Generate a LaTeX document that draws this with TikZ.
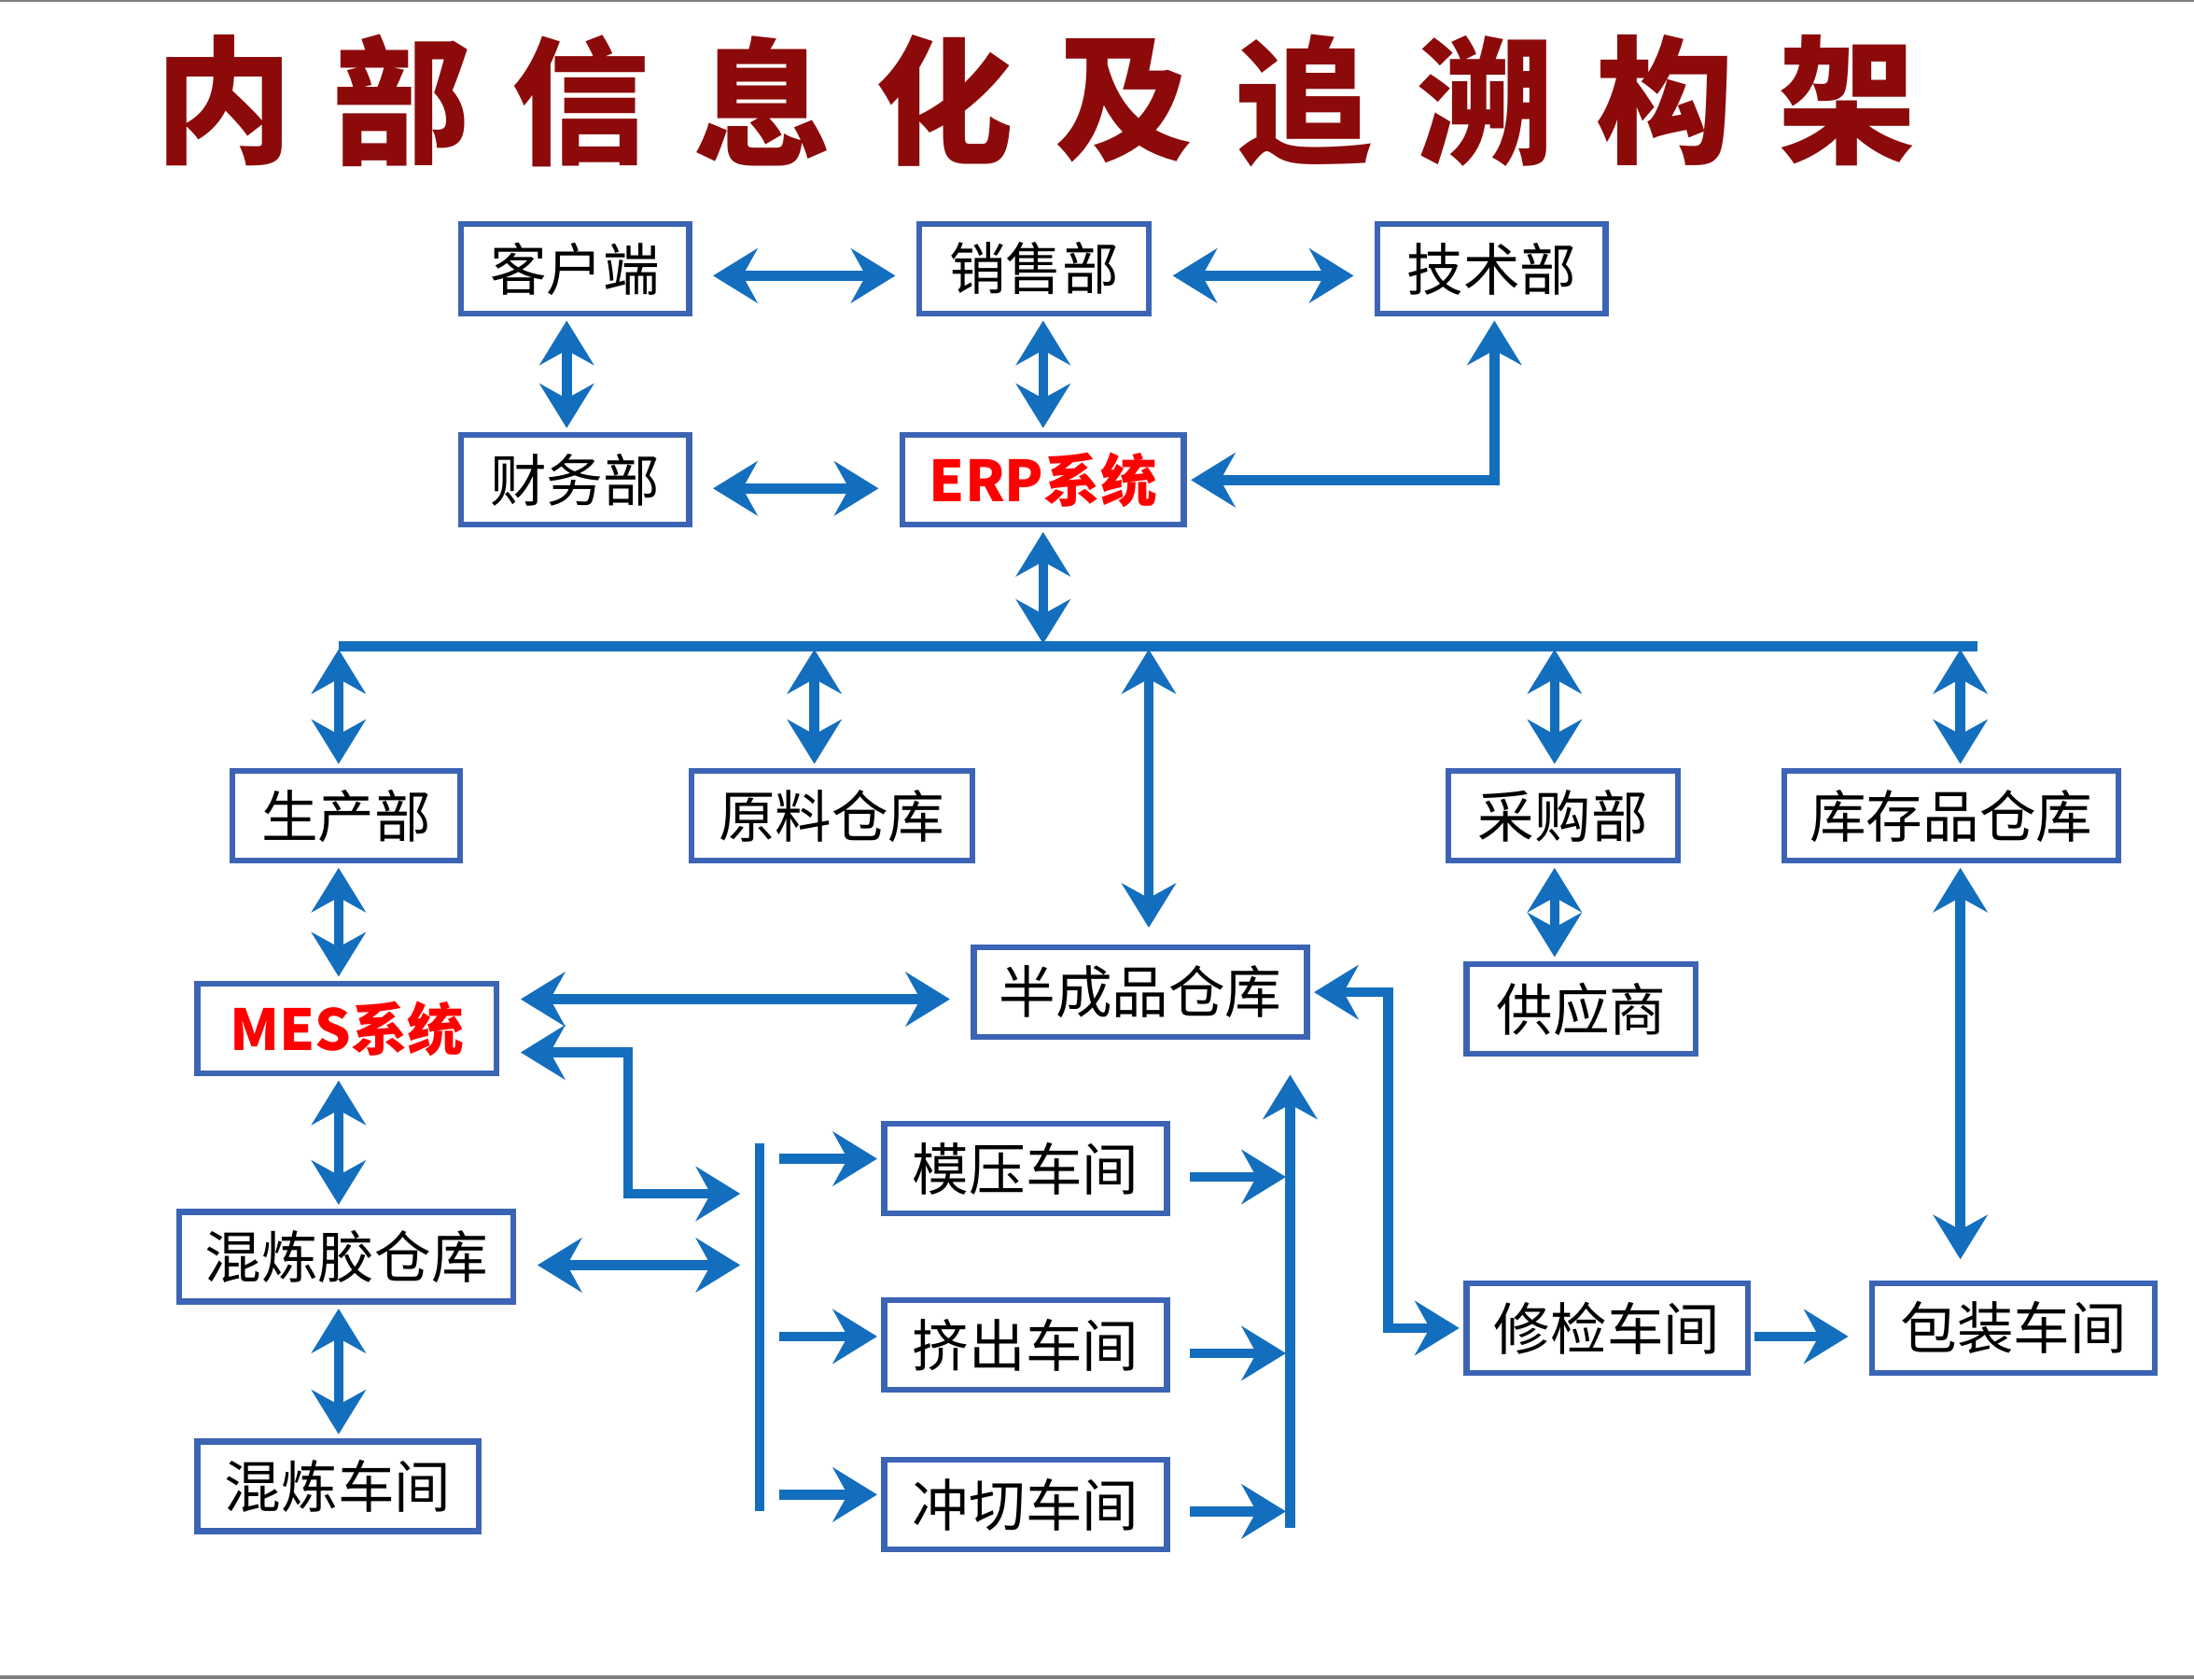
\documentclass[tikz,border=0pt]{standalone}
\usepackage{fontspec}
\setmainfont{Noto Sans CJK SC}
\newfontfamily\cjk{Noto Sans CJK SC}
\usetikzlibrary{arrows.meta}
\definecolor{bx}{RGB}{60,100,180}
\definecolor{ar}{RGB}{20,110,190}
\definecolor{tt}{RGB}{140,10,10}
\tikzset{
 box/.style={draw=bx,line width=1.2pt,minimum height=0.64cm,inner sep=0pt,font=\fontsize{11.5}{13}\selectfont\cjk},
 a/.style={draw=ar,line width=2pt,-{Stealth[length=9pt,width=11pt,inset=3pt]}},
 aa/.style={draw=ar,line width=2pt,{Stealth[length=9pt,width=11pt,inset=3pt]}-{Stealth[length=9pt,width=11pt,inset=3pt]}},
 ln/.style={draw=ar,line width=2pt},
 g/.style={shorten >=0.15cm,shorten <=0.15cm},
 v/.style={shorten >=0.03cm,shorten <=0.03cm},
 tl/.style={font=\fontsize{28}{30}\selectfont\bfseries\cjk,text=tt}
}
\begin{document}
\begin{tikzpicture}
\useasboundingbox (0,0) rectangle (15.68,-12);
\fill[white] (0,0) rectangle (15.68,-12);
\draw[gray,line width=0.6pt] (0,-0.005)--(15.68,-0.005);
\draw[gray,line width=0.6pt] (0,-11.985)--(15.68,-11.985);
\foreach \c/\x in {内/1.60,部/2.87,信/4.15,息/5.45,化/6.75,及/8.03,追/9.32,溯/10.62,构/11.90,架/13.20}
  \node[tl] (t\x) at (\x,-0.72) {\c};
\node[box,minimum width=1.63cm] (kh) at (4.11,-1.92) {客户端};
\node[box,minimum width=1.64cm] (xs) at (7.39,-1.92) {销售部};
\node[box,minimum width=1.63cm] (js) at (10.66,-1.92) {技术部};
\node[box,minimum width=1.63cm] (cw) at (4.11,-3.43) {财务部};
\node[box,minimum width=2.01cm,text=red,font=\fontsize{11.5}{13}\selectfont\bfseries\cjk] (erp) at (7.455,-3.43) {ERP系统};
\node[box,minimum width=1.63cm] (sc) at (2.475,-5.83) {生产部};
\node[box,minimum width=2.01cm] (yl) at (5.945,-5.83) {原料仓库};
\node[box,minimum width=1.64cm] (cg) at (11.17,-5.83) {采购部};
\node[box,minimum width=2.39cm] (kc) at (13.945,-5.83) {库存品仓库};
\node[box,minimum width=2.38cm] (bc) at (8.15,-7.09) {半成品仓库};
\node[box,minimum width=1.64cm] (gy) at (11.30,-7.21) {供应商};
\node[box,minimum width=2.14cm,text=red,font=\fontsize{11.5}{13}\selectfont\bfseries\cjk] (mes) at (2.48,-7.35) {MES系统};
\node[box,minimum width=2.39cm] (hlj) at (2.475,-8.98) {混炼胶仓库};
\node[box,minimum width=2.01cm] (hl) at (2.415,-10.62) {混炼车间};
\node[box,minimum width=2.02cm] (my) at (7.33,-8.35) {模压车间};
\node[box,minimum width=2.02cm] (jc) at (7.33,-9.61) {挤出车间};
\node[box,minimum width=2.02cm] (cq) at (7.33,-10.75) {冲切车间};
\node[box,minimum width=2.01cm] (xj) at (11.485,-9.49) {修检车间};
\node[box,minimum width=2.02cm] (bz) at (14.39,-9.49) {包装车间};
% top
\draw[aa,g] ([yshift=-0.05cm]kh.east) -- ([yshift=-0.05cm]xs.west);
\draw[aa,g] ([yshift=-0.05cm]xs.east) -- ([yshift=-0.05cm]js.west);
\draw[aa,v] ([xshift=-0.06cm]kh.south) -- ([xshift=-0.06cm]cw.north);
\draw[aa,v] (xs.south -| erp) -- (erp);
\draw[aa,g] ([yshift=-0.06cm]cw.east) -- ([yshift=-0.06cm]erp.west);
\draw[aa,shorten <=0.03cm,shorten >=0.03cm] (erp.east) -| ([xshift=0.02cm]js.south);
% bus
\coordinate (bl) at (2.42,-4.62);
\coordinate (br) at (14.13,-4.62);
\draw[ln] (bl) -- (br);
\draw[aa,shorten <=0.03cm,shorten >=0.02cm] (erp) -- (erp |- bl);
\draw[aa,shorten <=0.02cm,shorten >=0.03cm] (bl) -- (sc.north -| bl);
\draw[aa,shorten <=0.02cm,shorten >=0.03cm] (5.82,-4.62) coordinate (b2) -- (yl.north -| b2);
\draw[aa,shorten <=0.02cm,shorten >=0.12cm] (8.21,-4.62) coordinate (b3) -- (bc.north -| b3);
\draw[aa,shorten <=0.02cm,shorten >=0.03cm] (11.11,-4.62) coordinate (b4) -- (cg.north -| b4);
\draw[aa,shorten <=0.02cm,shorten >=0.03cm] (14.01,-4.62) coordinate (b5) -- (kc.north -| b5);
% left column
\draw[aa,v] (sc.south -| bl) -- (mes.north -| bl);
\draw[aa,v] (mes.south -| bl) -- (hlj.north -| bl);
\draw[aa,v] (hlj.south -| bl) -- (hl.north -| bl);
\draw[aa,g] ([yshift=0.21cm]mes.east) coordinate (m1) -- (m1 -| bc.west);
% brackets
\coordinate (lt) at (5.43,-8.17);
\coordinate (lb) at (5.43,-10.80);
\draw[ln] (lt) -- (lb);
\draw[aa,shorten <=0.15cm,shorten >=0.14cm] ([yshift=-0.17cm]mes.east) -| (4.49,-8.53) coordinate (e1) -- (e1 -| lt);
\draw[aa,shorten <=0.15cm,shorten >=0.14cm] ([yshift=-0.06cm]hlj.east) -- ([yshift=-0.06cm]hlj.east -| lt);
\draw[a,shorten <=0.14cm,shorten >=0.03cm] ([yshift=0.07cm]my.west -| lt) -- ([yshift=0.07cm]my.west);
\draw[a,shorten <=0.14cm,shorten >=0.03cm] ([yshift=0.06cm]jc.west -| lt) -- ([yshift=0.06cm]jc.west);
\draw[a,shorten <=0.14cm,shorten >=0.03cm] ([yshift=0.07cm]cq.west -| lt) -- ([yshift=0.07cm]cq.west);
\coordinate (rt) at (9.22,-8.28);
\coordinate (rb) at (9.22,-10.92);
\draw[ln] (rt) -- (rb);
\draw[a] (rt) -- (9.22,-7.68) coordinate (rtop);
\draw[a,shorten <=0.14cm,shorten >=0.03cm] ([yshift=-0.06cm]my.east) -- ([yshift=-0.06cm]my.east -| rt);
\draw[a,shorten <=0.14cm,shorten >=0.03cm] ([yshift=-0.06cm]jc.east) -- ([yshift=-0.06cm]jc.east -| rt);
\draw[a,shorten <=0.14cm,shorten >=0.03cm] ([yshift=-0.05cm]cq.east) -- ([yshift=-0.05cm]cq.east -| rt);
% right
\draw[aa,shorten <=0.03cm,shorten >=0.03cm] (bc.east) -| (9.92,-8.2) |- (xj.west);
\draw[aa,v] ([xshift=-0.06cm]cg.south) -- ([xshift=-0.06cm]cg.south |- gy.north);
\draw[aa,shorten <=0.03cm,shorten >=0.15cm] (kc.south -| b5) -- (bz.north -| b5);
\draw[a,shorten <=0.03cm,shorten >=0.15cm] ([yshift=-0.06cm]xj.east) -- ([yshift=-0.06cm]bz.west);
\end{tikzpicture}
\end{document}
